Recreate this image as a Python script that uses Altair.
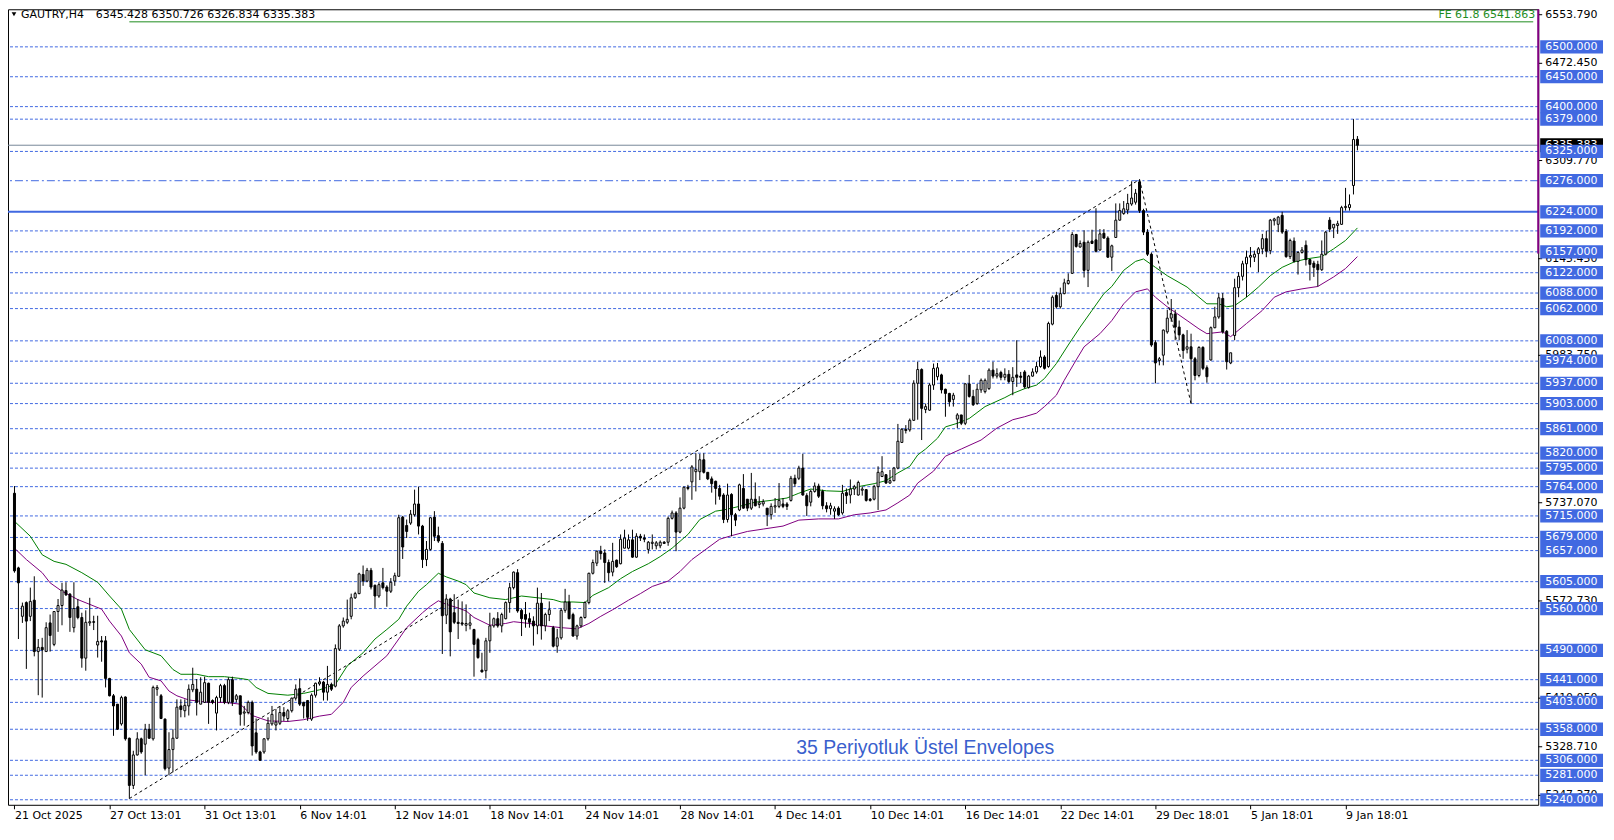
import json
import altair as alt
import pandas as pd

# ---------------- data ----------------
symbol = "GAUTRY,H4"
last_ohlc = "6345.428 6350.726 6326.834 6335.383"

opens = [5753,5628,5547,5570,5547,5574,5488,5495,5488,5536,5500,5555,5565,5590,5584,5528,5563,5545,5477,5536,
5538,5499,5506,5506,5443,5414,5400,5367,5412,5343,5264,5315,5342,5333,5358,5342,5425,5414,5375,5293,
5324,5343,5397,5389,5397,5424,5425,5400,5403,5435,5406,5385,5411,5431,5403,5441,5408,5414,5385,5386,
5403,5352,5320,5320,5342,5367,5365,5368,5386,5376,5389,5410,5426,5403,5406,5375,5415,5434,5437,5420,
5433,5430,5492,5531,5537,5547,5578,5585,5617,5606,5624,5599,5581,5603,5596,5589,5606,5614,5713,5699,
5703,5717,5735,5698,5642,5659,5713,5682,5669,5549,5576,5553,5537,5536,5532,5532,5525,5508,5457,5456,
5506,5531,5543,5531,5543,5570,5595,5620,5557,5550,5543,5539,5531,5569,5531,5550,5528,5497,5511,5557,
5571,5550,5514,5531,5545,5570,5619,5636,5656,5653,5637,5621,5641,5635,5661,5661,5675,5646,5681,5678,
5659,5669,5665,5665,5671,5671,5711,5720,5688,5728,5763,5772,5789,5789,5809,5788,5777,5773,5761,5750,
5709,5751,5717,5725,5761,5743,5728,5743,5734,5735,5728,5717,5730,5731,5735,5735,5741,5778,5778,5795,
5749,5738,5756,5765,5756,5732,5727,5723,5728,5720,5754,5750,5760,5750,5758,5759,5743,5743,5764,5781,
5784,5770,5774,5795,5838,5860,5859,5875,5937,5960,5893,5892,5934,5948,5951,5927,5920,5910,5877,5884,
5870,5936,5915,5903,5926,5923,5928,5959,5949,5955,5947,5952,5940,5951,5949,5956,5930,5949,5956,5965,
5981,5965,6036,6084,6065,6087,6104,6121,6186,6165,6173,6126,6175,6177,6160,6188,6180,6148,6181,6210,
6221,6227,6237,6240,6274,6226,6190,6153,6005,5975,5984,6023,6046,6053,6031,6018,5994,5998,5978,5950,
5997,5963,5976,6030,6048,6079,6024,5971,6017,6097,6116,6137,6148,6148,6154,6162,6179,6159,6209,6203,
6218,6191,6149,6175,6141,6156,6168,6144,6138,6136,6127,6153,6210,6197,6201,6203,6231,6231,6268,6345.428]

highs = [5765,5630,5570,5572,5595,5614,5509,5511,5537,5550,5555,5576,5603,5604,5586,5604,5576,5553,5557,5578,
5548,5548,5514,5514,5444,5417,5400,5414,5413,5344,5322,5353,5344,5367,5367,5431,5432,5417,5376,5353,
5358,5408,5408,5408,5433,5461,5442,5445,5446,5436,5408,5414,5434,5434,5445,5446,5417,5414,5397,5406,
5406,5376,5322,5343,5378,5397,5392,5397,5395,5392,5411,5433,5443,5404,5407,5418,5436,5445,5439,5464,
5436,5500,5534,5545,5575,5585,5588,5620,5632,5628,5628,5600,5604,5628,5599,5611,5620,5717,5715,5709,
5725,5759,5764,5700,5673,5713,5723,5697,5673,5584,5578,5584,5575,5572,5567,5550,5526,5511,5486,5511,
5553,5545,5554,5553,5572,5603,5622,5626,5560,5571,5553,5547,5595,5586,5553,5572,5531,5526,5561,5593,
5583,5553,5533,5547,5572,5620,5642,5657,5665,5659,5642,5670,5642,5684,5692,5684,5692,5686,5685,5684,
5673,5684,5673,5674,5673,5714,5724,5723,5746,5764,5767,5800,5820,5819,5820,5788,5781,5774,5767,5753,
5769,5753,5720,5769,5785,5743,5787,5771,5748,5743,5728,5736,5745,5770,5745,5738,5782,5784,5799,5819,
5753,5759,5771,5769,5759,5738,5737,5731,5731,5767,5761,5776,5767,5774,5764,5760,5745,5767,5798,5815,
5785,5792,5797,5869,5862,5867,5878,5942,5973,5962,5903,5937,5970,5971,5953,5928,5921,5921,5887,5884,
5937,5951,5926,5936,5945,5945,5962,5973,5962,5958,5962,5959,5964,6009,5956,5959,5951,5962,5973,5992,
5984,6040,6084,6090,6097,6112,6121,6190,6187,6176,6193,6176,6194,6230,6195,6195,6183,6169,6238,6238,
6242,6254,6275,6262,6278,6229,6195,6156,6009,5981,6027,6060,6078,6060,6042,6020,6026,6020,5981,5999,
5999,5967,6032,6065,6088,6088,6026,5988,6112,6123,6142,6159,6165,6159,6165,6187,6192,6212,6214,6217,
6224,6195,6179,6181,6158,6165,6176,6145,6142,6142,6176,6192,6215,6203,6209,6234,6264,6253,6379,6350.726]

lows = [5620,5509,5536,5459,5539,5480,5415,5411,5488,5488,5497,5521,5532,5581,5521,5520,5542,5461,5456,5531,
5524,5478,5471,5428,5413,5347,5357,5364,5339,5242,5258,5314,5317,5281,5342,5339,5414,5375,5289,5281,
5286,5342,5378,5378,5381,5420,5381,5400,5402,5367,5400,5356,5403,5400,5400,5397,5403,5364,5364,5383,
5314,5317,5305,5317,5339,5364,5356,5365,5372,5371,5386,5406,5397,5376,5372,5372,5411,5431,5406,5406,
5422,5428,5489,5528,5534,5542,5576,5584,5598,5604,5592,5561,5578,5592,5563,5586,5598,5613,5643,5678,
5700,5714,5684,5628,5631,5657,5673,5670,5484,5534,5480,5534,5509,5531,5522,5525,5446,5476,5453,5443,
5486,5528,5528,5520,5542,5553,5592,5553,5514,5528,5528,5498,5517,5508,5522,5539,5495,5486,5508,5553,
5542,5513,5508,5528,5543,5567,5617,5631,5642,5603,5606,5614,5628,5634,5661,5659,5645,5645,5673,5671,
5652,5659,5659,5661,5669,5665,5709,5656,5686,5726,5758,5742,5756,5775,5786,5775,5754,5734,5742,5703,
5704,5681,5698,5723,5727,5723,5725,5731,5728,5731,5698,5709,5720,5728,5728,5725,5739,5764,5775,5749,
5715,5731,5754,5745,5726,5721,5717,5710,5715,5717,5735,5736,5750,5749,5749,5739,5739,5741,5725,5780,
5769,5769,5773,5793,5837,5853,5856,5874,5876,5842,5887,5891,5926,5942,5920,5881,5898,5898,5862,5867,
5867,5913,5899,5901,5921,5920,5926,5945,5945,5942,5942,5937,5917,5931,5937,5928,5928,5948,5953,5963,
5960,5963,6034,6062,6062,6086,6102,6120,6164,6164,6114,6098,6170,6156,6159,6179,6147,6125,6181,6209,
6219,6220,6234,6236,6222,6185,6150,5998,5937,5967,5967,6020,6040,6009,6009,5978,5987,5903,5942,5947,
5959,5938,5975,6029,6045,6020,5960,5969,6009,6081,6109,6081,6131,6140,6123,6153,6148,6153,6201,6190,
6187,6147,6145,6139,6119,6154,6134,6109,6115,6099,6125,6151,6190,6180,6187,6202,6226,6226,6253,6326.834]

closes = [5623,5603,5564,5539,5572,5488,5495,5491,5528,5515,5555,5565,5591,5583,5545,5560,5545,5477,5537,5538,
5537,5505,5504,5443,5414,5397,5358,5411,5342,5264,5315,5342,5320,5358,5343,5428,5428,5376,5292,5324,
5343,5395,5391,5398,5425,5433,5403,5420,5436,5403,5403,5411,5431,5403,5441,5403,5414,5383,5387,5403,
5330,5320,5306,5342,5368,5383,5370,5386,5380,5389,5410,5425,5400,5397,5378,5415,5435,5437,5420,5433,
5425,5493,5531,5539,5542,5578,5585,5618,5606,5624,5596,5581,5600,5595,5589,5604,5615,5712,5663,5689,
5718,5735,5698,5642,5659,5712,5681,5673,5548,5576,5521,5537,5535,5534,5535,5536,5500,5478,5454,5506,
5531,5543,5531,5550,5570,5595,5621,5556,5543,5542,5537,5531,5569,5531,5550,5558,5497,5511,5557,5571,
5543,5514,5531,5545,5570,5619,5637,5656,5652,5637,5620,5639,5630,5676,5678,5675,5646,5681,5678,5676,
5671,5671,5670,5671,5669,5711,5720,5688,5728,5763,5761,5797,5793,5809,5788,5777,5769,5761,5748,5709,
5750,5717,5708,5767,5728,5728,5743,5732,5737,5739,5717,5731,5732,5741,5731,5731,5778,5769,5795,5750,
5732,5756,5765,5748,5732,5727,5732,5727,5717,5753,5749,5760,5764,5771,5760,5741,5741,5764,5788,5789,
5770,5774,5795,5840,5860,5858,5875,5937,5960,5895,5898,5934,5962,5963,5926,5920,5906,5917,5884,5870,
5936,5915,5901,5927,5942,5942,5959,5949,5953,5947,5952,5940,5947,5947,5947,5931,5949,5956,5965,5981,
5962,6037,6081,6065,6087,6105,6109,6186,6166,6171,6126,6173,6171,6158,6187,6180,6148,6167,6210,6226,
6229,6238,6247,6255,6226,6190,6153,6001,5971,5978,6026,6046,6053,6031,6018,5992,5998,5978,5950,5997,
5962,5948,6030,6048,6080,6023,5973,5988,6097,6116,6137,6148,6151,6153,6162,6179,6158,6210,6212,6215,
6190,6149,6176,6141,6156,6160,6144,6136,6131,6127,6153,6190,6195,6203,6204,6231,6233,6236,6345,6335.383]

x_labels = ["21 Oct 2025", "27 Oct 13:01", "31 Oct 13:01", "6 Nov 14:01", "12 Nov 14:01",
            "18 Nov 14:01", "24 Nov 14:01", "28 Nov 14:01", "4 Dec 14:01", "10 Dec 14:01",
            "16 Dec 14:01", "22 Dec 14:01", "29 Dec 18:01", "5 Jan 18:01", "9 Jan 18:01"]
label_step = 24

dotted_levels = [6500, 6450, 6400, 6379, 6325, 6192, 6157, 6122, 6088, 6062, 6008, 5974, 5937,
                 5903, 5861, 5820, 5795, 5764, 5715, 5679, 5657, 5605, 5560, 5490, 5441, 5403,
                 5358, 5306, 5281, 5240]
dashdot_levels = [6276]
solid_levels = [6224]
grid_values = [6553.790, 6472.450, 6309.770, 6145.450, 5983.750, 5737.070, 5572.730,
               5410.050, 5328.710, 5247.370]
bid_price = 6335.383

fe_idx = [29, 284, 297]
fe_price = [5242, 6278, 5903]
fe_name = "FE 61.8"
fe_level = 6541.863

env_up_idx = [0,4,7,10,13,17,21,24,27,29,33,37,40,42,46,49,53,57,59,61,64,69,73,77,81,84,88,91,94,97,
              99,102,104,107,109,112,114,116,120,124,128,132,136,138,141,144,146,150,153,156,160,163,
              166,170,173,177,179,183,187,191,195,198,201,205,209,213,217,220,223,226,228,230,233,235,
              238,241,245,250,252,255,258,260,263,266,269,272,275,277,280,283,285,288,291,296,299,301,
              304,306,308,311,314,317,320,323,326,330,333,336,339]
env_up = [5706,5681,5650,5639,5634,5620,5604,5581,5559,5525,5491,5481,5458,5450,5450,5446,5446,5443,5441,5428,
          5418,5415,5418,5424,5433,5464,5486,5509,5525,5542,5564,5589,5600,5619,5613,5606,5600,5586,5578,5575,
          5581,5578,5575,5571,5571,5570,5582,5595,5610,5622,5635,5647,5661,5684,5709,5723,5725,5731,5738,5741,
          5745,5753,5760,5757,5756,5764,5769,5774,5787,5798,5817,5827,5845,5864,5870,5878,5898,5913,5920,5928,
          5934,5945,5970,6001,6031,6059,6087,6099,6126,6141,6145,6131,6117,6098,6081,6070,6070,6065,6067,6081,
          6098,6117,6131,6140,6145,6149,6162,6176,6197]
env_lo_idx = [0,3,7,9,12,16,19,22,24,27,29,32,34,37,39,41,44,49,53,57,60,64,69,73,77,80,83,85,88,91,
              94,97,99,103,105,107,109,112,114,116,120,124,126,130,134,138,142,145,148,151,155,158,161,
              165,168,171,178,181,185,189,194,198,203,208,212,216,220,223,226,228,232,235,239,244,248,
              252,255,258,260,263,265,268,270,274,277,280,283,286,288,291,296,299,301,305,307,311,315,
              318,321,325,329,333,336,339]
env_lo = [5661,5642,5620,5603,5589,5575,5567,5559,5539,5514,5486,5467,5445,5439,5422,5414,5407,5403,5403,5400,
          5381,5372,5371,5374,5380,5383,5403,5428,5447,5464,5481,5509,5528,5553,5564,5573,5567,5561,5556,5545,
          5532,5535,5538,5535,5531,5528,5526,5535,5547,5558,5574,5585,5597,5606,5622,5642,5676,5682,5689,5693,
          5698,5708,5710,5710,5717,5720,5725,5737,5750,5770,5790,5815,5827,5842,5862,5876,5881,5887,5898,5917,
          5942,5976,5998,6020,6042,6070,6090,6095,6081,6065,6042,6028,6020,6023,6015,6037,6059,6081,6090,6095,
          6099,6115,6129,6149]

note_text = "35 Periyotluk Üstel Envelopes"
note_idx = 229.9
note_price = 5326.7
marker_low = 6154

# ---------------- chart ----------------
W, H = 1535, 798
XDOM = [-0.375, 383.375]
YDOM = [5231.6, 6562.9]
BLUE = "#4169E1"
GREEN = "#1E8C1E"
ENV_GREEN = "#008000"
PURPLE = "#800080"
FONT = "DejaVu Sans"

xs = alt.Scale(domain=XDOM, nice=False, zero=False)
ys = alt.Scale(domain=YDOM, nice=False, zero=False)

label_expr = json.dumps(x_labels) + "[round(datum.value / %d)]" % label_step
x_axis = alt.Axis(values=[k * label_step for k in range(len(x_labels))], labelExpr=label_expr,
                  title=None, grid=False, domain=False, ticks=True, tickSize=4, tickColor="black",
                  labelColor="black", labelFont=FONT, labelFontSize=11, labelAlign="left",
                  labelBaseline="top", labelPadding=1, labelOverlap=False, labelFlush=False)


def X(f):
    return alt.X(f, type="quantitative", scale=xs, axis=x_axis)


def Y(f):
    return alt.Y(f, type="quantitative", scale=ys, axis=None)


candles = pd.DataFrame({"i": list(range(len(opens))), "o": opens, "h": highs, "l": lows, "c": closes})

layers = []

# level lines
layers.append(alt.Chart(pd.DataFrame({"p": dotted_levels})).mark_rule(
    color=BLUE, strokeWidth=1, strokeDash=[3, 2]).encode(y=Y("p")))
layers.append(alt.Chart(pd.DataFrame({"p": dashdot_levels})).mark_rule(
    color=BLUE, strokeWidth=1, strokeDash=[8, 3, 2, 3]).encode(y=Y("p")))
layers.append(alt.Chart(pd.DataFrame({"p": solid_levels})).mark_rule(
    color=BLUE, strokeWidth=2).encode(y=Y("p")))
layers.append(alt.Chart(pd.DataFrame({"p": [bid_price]})).mark_rule(
    color="#778899", strokeWidth=1).encode(y=Y("p")))

# FE level
layers.append(alt.Chart(pd.DataFrame({"i": [fe_idx[0]], "i2": [XDOM[1]], "p": [fe_level]})).mark_rule(
    color=GREEN, strokeWidth=1).encode(x=X("i"), x2="i2:Q", y=Y("p")))

# envelopes
layers.append(alt.Chart(pd.DataFrame({"i": env_up_idx, "p": env_up})).mark_line(
    color=ENV_GREEN, strokeWidth=1).encode(x=X("i"), y=Y("p")))
layers.append(alt.Chart(pd.DataFrame({"i": env_lo_idx, "p": env_lo})).mark_line(
    color=PURPLE, strokeWidth=1).encode(x=X("i"), y=Y("p")))

# FE dashed path
layers.append(alt.Chart(pd.DataFrame({"i": fe_idx, "p": fe_price, "k": [0, 1, 2]})).mark_line(
    color="black", strokeWidth=1, strokeDash=[3, 3]).encode(x=X("i"), y=Y("p"), order="k:Q"))

# candles
layers.append(alt.Chart(candles).mark_rule(color="black", strokeWidth=1).encode(
    x=X("i"), y=Y("l"), y2="h:Q"))
layers.append(alt.Chart(candles).transform_calculate(
    fc="datum.c >= datum.o ? 'white' : 'black'").mark_bar(
    width=2, stroke="black", strokeWidth=1).encode(
    x=X("i"), y=Y("o"), y2="c:Q", fill=alt.Fill("fc:N", scale=None)))

# annotation
layers.append(alt.Chart(pd.DataFrame({"i": [note_idx], "p": [note_price], "t": [note_text]})).mark_text(
    font="Liberation Sans", fontSize=19.5, color="#3A5FCD", align="center", baseline="middle").encode(
    x=X("i"), y=Y("p"), text="t:N"))

# header
hdr = pd.DataFrame({"a": [symbol], "b": [last_ohlc]})
layers.append(alt.Chart(hdr).mark_point(shape="triangle-down", filled=True, color="black", size=22,
                                        opacity=1).encode(x=alt.value(6), y=alt.value(5)))
layers.append(alt.Chart(hdr).mark_text(font=FONT, fontSize=11, color="black", align="left",
                                       baseline="middle").encode(x=alt.value(13), y=alt.value(6), text="a:N"))
layers.append(alt.Chart(hdr).mark_text(font=FONT, fontSize=11, color="black", align="left",
                                       baseline="middle").encode(x=alt.value(88), y=alt.value(6), text="b:N"))

# FE label
layers.append(alt.Chart(pd.DataFrame({"p": [fe_level], "t": ["%s %.3f" % (fe_name, fe_level)]})).mark_text(
    font=FONT, fontSize=11, color=GREEN, align="right", baseline="middle", dy=-7).encode(
    x=alt.value(W - 3), y=Y("p"), text="t:N"))

# right price scale: grid values
grid_df = pd.DataFrame({"p": grid_values, "t": ["%.3f" % v for v in grid_values]})
layers.append(alt.Chart(grid_df).mark_rule(color="black", strokeWidth=1).encode(
    x=alt.value(W), x2=alt.value(W + 4), y=Y("p")))
layers.append(alt.Chart(grid_df).mark_text(font=FONT, fontSize=11, color="black", align="left",
                                           baseline="middle").encode(x=alt.value(W + 7), y=Y("p"), text="t:N"))

# bid box
bid_df = pd.DataFrame({"p": [bid_price], "t": ["%.3f" % bid_price]})
layers.append(alt.Chart(bid_df).transform_calculate(p1="datum.p + 11.7", p2="datum.p - 11.7").mark_rect(
    color="black").encode(x=alt.value(W + 2), x2=alt.value(W + 65), y=Y("p1"), y2="p2:Q"))
layers.append(alt.Chart(bid_df).mark_text(font=FONT, fontSize=11, color="white", align="left",
                                          baseline="middle").encode(x=alt.value(W + 7), y=Y("p"), text="t:N"))

# level boxes
all_levels = sorted(dotted_levels + dashdot_levels + solid_levels, reverse=True)
lv_df = pd.DataFrame({"p": all_levels, "t": ["%.3f" % v for v in all_levels]})
layers.append(alt.Chart(lv_df).transform_calculate(p1="datum.p + 11.1", p2="datum.p - 11.1").mark_rect(
    color=BLUE).encode(x=alt.value(W + 2), x2=alt.value(W + 65), y=Y("p1"), y2="p2:Q"))
layers.append(alt.Chart(lv_df).mark_text(font=FONT, fontSize=11, color="white", align="left",
                                         baseline="middle").encode(x=alt.value(W + 7), y=Y("p"), text="t:N"))

# purple marker on the right edge
layers.append(alt.Chart(pd.DataFrame({"p": [YDOM[1]], "p2": [marker_low]})).mark_rule(
    color=PURPLE, strokeWidth=2).encode(x=alt.value(W), y=Y("p"), y2="p2:Q"))

chart = alt.layer(*layers).properties(
    width=W, height=H,
    padding={"left": 0, "top": 0, "right": 68, "bottom": 18},
    autosize=alt.AutoSizeParams(type="none"),
    background="white",
).configure_view(stroke="black", strokeWidth=1)

chart.save("out.html", embed_options={"renderer": "svg", "actions": False})
